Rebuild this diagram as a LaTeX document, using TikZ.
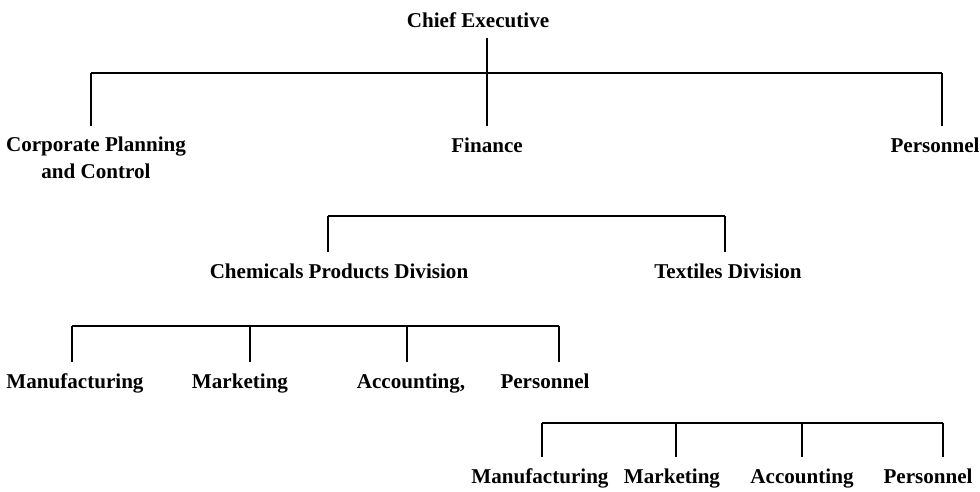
\documentclass[tikz,border=0pt]{standalone}
\usepackage{fontspec}
\setmainfont{Liberation Serif}
\usetikzlibrary{calc}
\tikzstyle{post} = [inner xsep=2pt, inner ysep=6pt, anchor=base, align=center, font=\fontsize{12}{15}\selectfont\bfseries]
\tikzstyle{link} = [line width=1.5pt]

\begin{document}
\begin{tikzpicture}[x=0.02cm, y=-0.02cm]
    \useasboundingbox (0,0) rectangle (980,491);

    % Draw the top level
    \node[post] (CE) at (478,27) {Chief Executive};
    \node[post] (CPC) at (96,178) {Corporate Planning\\and Control};
    \foreach \name / \x / \txt in {FIN/487/Finance, PER/935/Personnel}
        \node[post] (\name) at (\x,152) {\txt};
    \foreach \name / \x in {CPC/91, FIN/487, PER/942}
        \coordinate (\name-top) at (\x,73);
    \draw[link] (CPC-top) -- (PER-top);
    \draw[link] (CE.south -| FIN-top) -- (FIN-top);
    \foreach \name in {CPC, FIN, PER}
        \draw[link] (\name-top) -- (\name-top |- \name.north);

    % Draw the divisions
    \foreach \name / \x / \txt in {CPD/339/Chemicals Products Division, TEX/728/Textiles Division}
        \node[post] (\name) at (\x,278) {\txt};
    \foreach \name / \x in {CPD/328, TEX/725}
        \coordinate (\name-top) at (\x,216);
    \draw[link] (CPD-top) -- (TEX-top);
    \foreach \name in {CPD, TEX}
        \draw[link] (\name-top) -- (\name-top |- \name.north);

    % Functions under Chemicals Products Division
    \foreach \name / \x / \txt in {C-MF/75/Manufacturing, C-MK/240/Marketing, C-AC/411/{Accounting,}, C-PE/545/Personnel}
        \node[post] (\name) at (\x,388) {\txt};
    \foreach \name / \x in {C-MF/72, C-MK/250, C-AC/407, C-PE/559}
        \coordinate (\name-top) at (\x,326);
    \draw[link] (C-MF-top) -- (C-PE-top);
    \foreach \name in {C-MF, C-MK, C-AC, C-PE}
        \draw[link] (\name-top) -- (\name-top |- \name.north);

    % Functions under Textiles Division
    \foreach \name / \x / \txt in {T-MF/540/Manufacturing, T-MK/672/Marketing, T-AC/802/Accounting, T-PE/928/Personnel}
        \node[post] (\name) at (\x,483) {\txt};
    \foreach \name / \x in {T-MF/542, T-MK/676, T-AC/802, T-PE/943}
        \coordinate (\name-top) at (\x,423);
    \draw[link] (T-MF-top) -- (T-PE-top);
    \foreach \name in {T-MF, T-MK, T-AC, T-PE}
        \draw[link] (\name-top) -- (\name-top |- \name.north);
\end{tikzpicture}
\end{document}
